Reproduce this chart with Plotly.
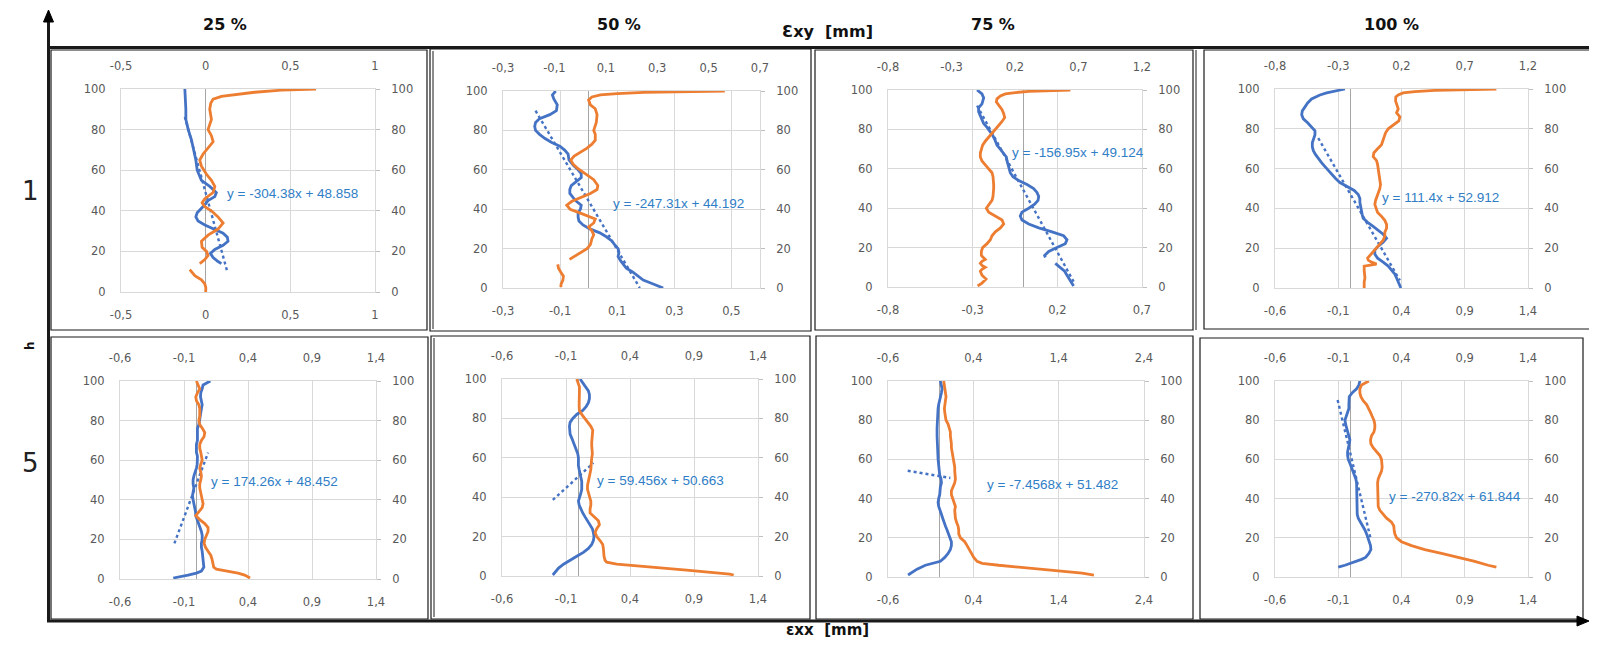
import numpy as np
import plotly.graph_objects as go

# page is 1597x648; the html body keeps its default 8px margin, so the figure is 16px smaller
PAGE_W, PAGE_H = 1597, 648
OFF = 8
W, H = PAGE_W - 2 * OFF, PAGE_H - 2 * OFF

column_titles = ["25 %", "50 %", "75 %", "100 %"]
row_titles = ["1", "5"]
top_axis_title = "Ɛxy  [mm]"
bottom_axis_title = "εxx  [mm]"
h_title = "h"

# ---------------- data (h = height, x = strain) ----------------
p1_blue_h = [100, 95, 90, 85, 80, 75, 70, 65, 60, 55, 52, 49, 47, 45, 43, 41, 39, 37, 35, 33, 31, 29, 27, 25, 23, 21, 19, 17, 15, 14]
p1_blue_x = [-0.123, -0.119, -0.117, -0.117, -0.103, -0.084, -0.070, -0.058, -0.050, -0.025, 0.024, 0.063, 0.054, 0.014, -0.005, -0.025, -0.050, -0.058, -0.045, -0.005, 0.054, 0.103, 0.128, 0.132, 0.103, 0.054, 0.028, 0.044, 0.073, 0.093]
p1_orange_h = [100, 99.4, 98.4, 97.2, 96.4, 95, 93, 90, 85, 80, 77, 74, 71, 68, 65, 62, 58, 55, 52, 49, 46, 44, 42, 40, 37, 34, 31, 28, 25, 22, 20, 18, 16, 14, None, 11, 8, 6, 4, 2, 0]
p1_orange_x = [0.652, 0.446, 0.289, 0.171, 0.093, 0.044, 0.030, 0.024, 0.034, 0.014, 0.034, 0.044, 0.014, -0.015, -0.035, -0.025, 0.005, 0.034, 0.054, 0.044, -0.005, -0.021, -0.005, 0.034, 0.073, 0.103, 0.073, 0.014, -0.025, -0.021, 0.005, 0.014, -0.005, -0.035, None, -0.094, -0.064, -0.025, -0.005, 0.001, 0.0]

p2_blue_h = [100, 98, 96, 93, 90, 88, 86, 84, 82, 80, 78, 76, 74, 72, 70, 68, 65, 62, 60, 58, 56, 54, 52, 50, 48, 46, 44, 42, 40, 38, 36, 34, 32, 30, 28, 26, 24, 22, 20, 18, 16, 14, 12, 10, 8, 6, 4, 2, 0]
p2_blue_x = [-0.1155, -0.127, -0.122, -0.110, -0.113, -0.136, -0.172, -0.186, -0.189, -0.186, -0.172, -0.154, -0.131, -0.101, -0.084, -0.072, -0.069, -0.052, -0.037, -0.026, -0.026, -0.043, -0.061, -0.066, -0.066, -0.055, -0.043, -0.026, -0.029, -0.037, -0.037, -0.034, -0.020, 0.004, 0.039, 0.062, 0.080, 0.091, 0.103, 0.106, 0.103, 0.111, 0.120, 0.132, 0.155, 0.173, 0.191, 0.226, 0.261]
p2_orange_h = [100, 99.7, 99.3, 98.7, 98, 97, 95.5, 93, 91, 88, 84, 80, 78, 75, 73, 71, 69, 67, 65, 63, 61, 58, 55, 52, 50, 48, 46, 44, 42, 40, 38, 36, 35, 33, 31, 29, 27, 25, 22, 20, 18, 16, 14.5, None, 12, 10, 8, 6, 4, 2, 0.5]
p2_orange_x = [0.563, 0.393, 0.249, 0.144, 0.079, 0.046, 0.033, 0.040, 0.059, 0.066, 0.063, 0.053, 0.059, 0.059, 0.046, 0.027, 0.001, -0.023, -0.036, -0.028, -0.012, 0.020, 0.053, 0.069, 0.066, 0.040, 0.001, -0.032, -0.052, -0.039, 0.001, 0.040, 0.059, 0.053, 0.033, 0.046, 0.053, 0.046, 0.040, 0.027, 0.001, -0.025, -0.041, None, -0.087, -0.084, -0.075, -0.065, -0.067, -0.074, -0.075]

p3_blue_h = [100, 98, 96, 93, 91, 89, 87, 85, 83, 81, 79, 77, 75, 72, 70, 68, 66, 64, 62, 60, 58, 56, 54, 52, 50, 48, 46, 44, 42, 40, 38, 36, 34, 32, 30, 28, 26, 24, 22, 20, 18, 16, 15, None, 12, 10, 8, 6, 4, 2, 0.5]
p3_blue_x = [-0.274, -0.245, -0.235, -0.245, -0.265, -0.265, -0.255, -0.245, -0.235, -0.215, -0.196, -0.182, -0.170, -0.156, -0.137, -0.117, -0.101, -0.097, -0.091, -0.087, -0.078, -0.062, -0.028, 0.021, 0.060, 0.080, 0.090, 0.086, 0.066, 0.031, -0.009, -0.019, -0.009, 0.031, 0.090, 0.169, 0.237, 0.257, 0.247, 0.198, 0.149, 0.125, 0.129, None, 0.188, 0.218, 0.243, 0.257, 0.271, 0.287, 0.296]
p3_orange_h = [100, 99.7, 99.3, 98.7, 98, 97, 95.5, 94, 92, 90, 88, 86, 84, 82, 80, 78, 76, 74, 72, 70, 68, 66, 64, 62, 60, 58, 56, 54, 52, 50, 48, 46, 44, 42, 40, 38, 36, 34, 32, 30, 28, 26, 24, 22, 20, 18, 16, 14, 13, 12, 11, 10, 9, 8, 6, 4, 2, 0.5]
p3_orange_x = [0.636, 0.439, 0.308, 0.203, 0.124, 0.085, 0.058, 0.053, 0.079, 0.098, 0.111, 0.119, 0.098, 0.071, 0.045, 0.019, -0.007, -0.034, -0.055, -0.065, -0.073, -0.073, -0.060, -0.034, -0.007, 0.019, 0.027, 0.032, 0.032, 0.032, 0.032, 0.027, 0.019, -0.007, -0.026, -0.007, 0.045, 0.098, 0.111, 0.085, 0.045, 0.019, 0.006, -0.020, -0.055, -0.065, -0.065, -0.034, -0.060, -0.073, -0.060, -0.034, -0.060, -0.073, -0.060, -0.028, -0.060, -0.094]

p4_blue_h = [100, 99, 98, 97, 96, 95, 93, 91, 89, 87, 85, 83, 81, 79, 77, 75, 73, 71, 69, 67, 65, 63, 61, 59, 57, 55, 53, 51, 49, 47, 45, 43, 41, 39, 37, 35, 33, 31, 29, 27, 25, 23, 21, 19, 17, 15, 13, 11, 9, 7, 5, 3, 1, 0]
p4_blue_x = [-0.047, -0.126, -0.192, -0.245, -0.284, -0.311, -0.342, -0.363, -0.384, -0.389, -0.376, -0.342, -0.311, -0.284, -0.284, -0.297, -0.305, -0.305, -0.297, -0.279, -0.258, -0.232, -0.205, -0.179, -0.153, -0.121, -0.087, -0.034, 0.026, 0.058, 0.071, 0.071, 0.076, 0.084, 0.089, 0.097, 0.132, 0.176, 0.216, 0.255, 0.282, 0.255, 0.216, 0.189, 0.189, 0.211, 0.255, 0.295, 0.321, 0.347, 0.361, 0.374, 0.387, 0.395]
p4_orange_h = [100, 99.7, 99.3, 98.7, 98, 97, 96, 94, 92, 90, 88, 86, 84, 82, 80, 78, 76, 74, 72, 70, 68, 66, 64, 62, 60, 58, 56, 54, 52, 50, 48, 46, 44, 42, 40, 38, 36, 34, 32, 30, 28, 26, 24, 22, 20, 18, 16, 15, 14, 13, 12, 11.5, 11, 9, 7, 5, 3, 1, 0]
p4_orange_x = [0.950, 0.674, 0.463, 0.305, 0.213, 0.174, 0.155, 0.153, 0.161, 0.174, 0.161, 0.187, 0.179, 0.134, 0.095, 0.074, 0.063, 0.055, 0.042, 0.011, -0.018, -0.024, 0.003, 0.011, 0.016, 0.024, 0.029, 0.029, 0.034, 0.029, 0.016, 0.003, -0.005, -0.011, -0.003, 0.011, 0.042, 0.068, 0.082, 0.082, 0.068, 0.068, 0.055, 0.029, 0.003, -0.024, -0.050, -0.068, -0.063, -0.037, 0.003, -0.063, -0.095, -0.095, -0.089, -0.089, -0.095, -0.095, -0.095]

p5_blue_h = [100, 99, 98, 96, 94, 92, 90, 88, 86, 84, 82, 80, 78, 76, 74, 72, 70, 68, 66, 64, 62, 60, 58, 56, 54, 52, 50, 48, 46, 44, 42, 40, 38, 36, 34, 32, 30, 28, 26, 24, 22, 20, 18, 16, 14, 12, 10, 8, 6, 4, 3, 2, 1, 0.5]
p5_blue_x = [0.106, 0.075, 0.049, 0.042, 0.031, 0.029, 0.036, 0.042, 0.036, 0.031, 0.031, 0.023, 0.016, 0.005, 0.005, 0.010, 0.005, -0.003, -0.003, -0.003, 0.005, 0.005, 0.003, -0.003, -0.016, -0.023, -0.029, -0.029, -0.023, -0.029, -0.034, -0.029, -0.021, -0.016, -0.010, -0.008, 0.003, 0.016, 0.029, 0.036, 0.042, 0.042, 0.036, 0.036, 0.042, 0.044, 0.047, 0.049, 0.055, 0.036, -0.003, -0.068, -0.158, -0.184]
p5_orange_h = [100, 98, 96, 94, 92, 90, 88, 86, 84, 82, 80, 78, 76, 74, 72, 70, 68, 66, 64, 62, 60, 58, 56, 54, 52, 50, 48, 46, 44, 42, 40, 38, 36, 34, 32, 30, 28, 26, 24, 22, 20, 18, 16, 14, 12, 10, 8, 6, 5, 4, 3, 2, 1, 0.5]
p5_orange_x = [-0.003, 0.010, 0.023, 0.005, -0.008, -0.003, 0.016, 0.023, 0.023, 0.023, 0.016, 0.023, 0.044, 0.062, 0.057, 0.036, 0.023, 0.023, 0.031, 0.036, 0.042, 0.031, 0.023, 0.031, 0.036, 0.031, 0.023, 0.023, 0.029, 0.036, 0.042, 0.049, 0.042, 0.016, -0.008, 0.023, 0.062, 0.088, 0.088, 0.075, 0.062, 0.057, 0.068, 0.088, 0.109, 0.119, 0.127, 0.132, 0.153, 0.244, 0.322, 0.374, 0.408, 0.416]

p6_blue_h = [100, 98, 96, 94, 92, 90, 88, 86, 84, 82, 80, 78, 76, 74, 72, 70, 68, 66, 64, 62, 60, 58, 56, 54, 52, 50, 48, 46, 44, 42, 40, 38, 36, 34, 32, 30, 28, 26, 24, 22, 20, 18, 16, 14, 12, 10, 8, 6, 4, 2, 0.5]
p6_blue_x = [0.010, 0.031, 0.057, 0.075, 0.083, 0.083, 0.075, 0.057, 0.031, -0.016, -0.047, -0.068, -0.073, -0.073, -0.068, -0.055, -0.042, -0.029, -0.016, -0.008, -0.003, -0.003, -0.003, 0.003, 0.010, 0.018, 0.023, 0.023, 0.023, 0.016, 0.005, -0.003, 0.003, 0.016, 0.031, 0.049, 0.068, 0.088, 0.106, 0.114, 0.119, 0.114, 0.101, 0.075, 0.036, -0.016, -0.068, -0.119, -0.158, -0.184, -0.203]
p6_orange_h = [100, 98, 96, 94, 92, 90, 88, 86, 84, 82, 80, 78, 76, 74, 72, 70, 68, 66, 64, 62, 60, 58, 56, 54, 52, 50, 48, 46, 44, 42, 40, 38, 36, 34, 32, 30, 28, 26, 24, 22, 20, 18, 16, 14, 12, 10, 8, 7, 6, 5, 4, 3, 2, 1.5, 1, 0.5]
p6_orange_x = [-0.016, -0.003, 0.005, 0.005, 0.003, 0.003, 0.003, 0.003, 0.005, 0.023, 0.049, 0.075, 0.094, 0.109, 0.106, 0.101, 0.101, 0.101, 0.106, 0.106, 0.101, 0.101, 0.096, 0.094, 0.088, 0.083, 0.075, 0.068, 0.068, 0.075, 0.088, 0.094, 0.094, 0.088, 0.088, 0.119, 0.153, 0.161, 0.140, 0.127, 0.140, 0.166, 0.187, 0.192, 0.192, 0.197, 0.205, 0.218, 0.296, 0.452, 0.660, 0.842, 1.023, 1.127, 1.179, 1.210]

p7_blue_h = [100, 98, 96, 94, 92, 90, 88, 86, 84, 80, 76, 72, 68, 64, 60, 56, 52, 50, 48, 46, 44, 42, 40, 38, 36, 34, 32, 30, 28, 26, 24, 22, 20, 18, 16, 14, 12, 10, 8, 7, 6, 4, 2, 1]
p7_blue_x = [0.014, 0.026, 0.034, 0.026, 0.014, 0.006, -0.006, -0.013, -0.017, -0.017, -0.025, -0.025, -0.025, -0.017, -0.013, -0.006, 0.006, 0.022, 0.026, 0.014, 0.014, 0.006, -0.006, -0.013, -0.006, 0.014, 0.026, 0.041, 0.053, 0.073, 0.092, 0.112, 0.131, 0.143, 0.143, 0.131, 0.104, 0.065, 0.014, -0.064, -0.162, -0.260, -0.326, -0.365]
p7_orange_h = [100, 98, 96, 94, 92, 90, 88, 86, 84, 82, 80, 78, 76, 74, 72, 70, 68, 66, 64, 62, 60, 58, 56, 54, 52, 50, 48, 46, 44, 42, 40, 38, 36, 34, 32, 30, 28, 26, 24, 22, 20, 18, 16, 14, 12, 10, 8, 7, 6, 5, 4, 3, 2, 1]
p7_orange_x = [0.053, 0.061, 0.065, 0.073, 0.080, 0.073, 0.065, 0.061, 0.065, 0.073, 0.080, 0.104, 0.120, 0.131, 0.131, 0.139, 0.143, 0.143, 0.151, 0.159, 0.159, 0.170, 0.182, 0.182, 0.190, 0.190, 0.182, 0.159, 0.143, 0.143, 0.159, 0.182, 0.190, 0.182, 0.182, 0.190, 0.202, 0.221, 0.229, 0.229, 0.249, 0.299, 0.327, 0.354, 0.378, 0.405, 0.444, 0.503, 0.698, 0.933, 1.207, 1.481, 1.676, 1.813]

p8_blue_h = [100, 98, 96, 94, 92, 90, 88, 86, 84, 82, 80, 78, 76, 74, 72, 70, 68, 66, 64, 62, 60, 58, 56, 54, 52, 50, 48, 46, 44, 42, 40, 38, 36, 34, 32, 30, 28, 26, 24, 22, 20, 18, 16, 14, 12, 10, 9, 8, 7, 6, 5]
p8_blue_x = [0.071, 0.063, 0.045, 0.011, -0.013, -0.016, -0.016, -0.016, -0.026, -0.039, -0.047, -0.042, -0.034, -0.026, -0.016, -0.008, -0.013, -0.021, -0.026, -0.026, -0.021, -0.008, 0.005, 0.018, 0.032, 0.039, 0.045, 0.045, 0.045, 0.045, 0.045, 0.045, 0.045, 0.045, 0.050, 0.058, 0.076, 0.097, 0.111, 0.124, 0.137, 0.145, 0.155, 0.158, 0.142, 0.116, 0.084, 0.045, 0.005, -0.047, -0.100]
p8_orange_h = [100, 99, 98, 96, 94, 92, 90, 88, 86, 84, 82, 80, 78, 76, 74, 72, 70, 68, 66, 64, 62, 60, 58, 56, 54, 52, 50, 48, 46, 44, 42, 40, 38, 36, 34, 32, 30, 28, 26, 24, 22, 20, 18, 16, 14, 12, 10, 8, 6, 5]
p8_orange_x = [0.142, 0.111, 0.084, 0.071, 0.071, 0.079, 0.097, 0.124, 0.142, 0.155, 0.168, 0.182, 0.189, 0.189, 0.182, 0.163, 0.155, 0.158, 0.176, 0.203, 0.229, 0.242, 0.247, 0.247, 0.242, 0.229, 0.216, 0.211, 0.211, 0.211, 0.211, 0.211, 0.216, 0.216, 0.229, 0.255, 0.282, 0.321, 0.339, 0.342, 0.347, 0.361, 0.400, 0.479, 0.584, 0.716, 0.847, 0.979, 1.084, 1.150]

# linear trend lines of the blue series (end points) and their labels
trend_x = [[-0.123, 0.128], [-0.186, 0.179], [-0.274, 0.296], [-0.258, 0.387],
           [-0.175, 0.088], [-0.203, 0.114], [-0.369, 0.131], [-0.105, 0.157]]
trend_h = [[86.3, 9.9], [90.0, 0.0], [92.1, 2.7], [75.3, 3.8],
           [18.0, 63.8], [38.6, 57.4], [54.2, 50.5], [90.3, 19.3]]
trend_labels = ["y = -304.38x + 48.858", "y = -247.31x + 44.192", "y = -156.95x + 49.124",
                "y = 111.4x + 52.912", "y = 174.26x + 48.452", "y = 59.456x + 50.663",
                "y = -7.4568x + 51.482", "y = -270.82x + 61.844"]

# axis scales: bottom (εxx) and top (εxy) per panel
bottom_range = [[-0.5, 1.0], [-0.3, 0.6], [-0.8, 0.7], [-0.6, 1.4], [-0.6, 1.4], [-0.6, 1.4], [-0.6, 2.4], [-0.6, 1.4]]
bottom_step = [0.5, 0.2, 0.5, 0.5, 0.5, 0.5, 1.0, 0.5]
top_range = [[-0.5, 1.0], [-0.3, 0.7], [-0.8, 1.2], [-0.8, 1.2], [-0.6, 1.4], [-0.6, 1.4], [-0.6, 2.4], [-0.6, 1.4]]
top_step = [0.5, 0.2, 0.5, 0.5, 0.5, 0.5, 1.0, 0.5]
h_range = [0, 100]
h_step = 20

blue_series = [(p1_blue_x, p1_blue_h), (p2_blue_x, p2_blue_h), (p3_blue_x, p3_blue_h), (p4_blue_x, p4_blue_h),
               (p5_blue_x, p5_blue_h), (p6_blue_x, p6_blue_h), (p7_blue_x, p7_blue_h), (p8_blue_x, p8_blue_h)]
orange_series = [(p1_orange_x, p1_orange_h), (p2_orange_x, p2_orange_h), (p3_orange_x, p3_orange_h), (p4_orange_x, p4_orange_h),
                 (p5_orange_x, p5_orange_h), (p6_orange_x, p6_orange_h), (p7_orange_x, p7_orange_h), (p8_orange_x, p8_orange_h)]

# ---------------- styling / layout ----------------
BLUE = "#4472C4"
ORANGE = "#ED7D31"
EQ_COLOR = "#2f7ec6"
GRID = "#d9d9d9"
ZERO = "#a6a6a6"
TICK_FONT = dict(family="DejaVu Sans", size=11.5, color="#595959")

# plot areas in page pixels: (left, right, top, bottom)
plot_px = [(121, 375, 89, 292), (503, 760, 91, 288), (888, 1142, 90, 287), (1275, 1528, 89, 288),
           (120, 376, 381, 579), (502, 758, 379, 576), (888, 1144, 381, 577), (1275, 1528, 381, 577)]
# equation label centres in page pixels
eq_px = [(292, 193), (678, 203), (1078, 152), (1440, 197), (274, 481), (660, 480), (1052, 484), (1455, 496)]


def X(px):
    return (px - OFF) / W


def Y(py):
    return 1 - (py - OFF) / H


def fmt(v):
    s = f"{v:.1f}"
    if s.endswith(".0"):
        s = s[:-2]
    if s == "-0":
        s = "0"
    return s.replace(".", ",")


def ticks(lo, hi, step):
    vals = np.round(np.arange(lo, hi + 1e-9, step), 3)
    return list(vals), [fmt(v) for v in vals]


def axname(kind, n):
    return kind if n == 1 else f"{kind}{n}"


fig = go.Figure()
layout_axes = {}

for i in range(8):
    nb, nt = 2 * i + 1, 2 * i + 2
    xb, xt = axname("x", nb), axname("x", nt)
    yl, yr = axname("y", nb), axname("y", nt)
    l, r, t, b = plot_px[i]

    bx, bh = blue_series[i]
    ox, oh = orange_series[i]

    fig.add_trace(go.Scatter(x=bx, y=bh, xaxis=xb, yaxis=yl, mode="lines",
                             line=dict(color=BLUE, width=2.8), connectgaps=False,
                             showlegend=False, hoverinfo="skip"))
    fig.add_trace(go.Scatter(x=trend_x[i], y=trend_h[i], xaxis=xb, yaxis=yl, mode="lines",
                             line=dict(color=BLUE, width=2.4, dash="dot"),
                             showlegend=False, hoverinfo="skip"))
    fig.add_trace(go.Scatter(x=ox, y=oh, xaxis=xt, yaxis=yr, mode="lines",
                             line=dict(color=ORANGE, width=2.8), connectgaps=False,
                             showlegend=False, hoverinfo="skip"))

    bv, bt = ticks(bottom_range[i][0], bottom_range[i][1], bottom_step[i])
    tv, tt = ticks(top_range[i][0], top_range[i][1], top_step[i])
    hv, _ = ticks(h_range[0], h_range[1], h_step)
    ht = [str(int(v)) for v in hv]

    common = dict(fixedrange=True, automargin=False, tickfont=TICK_FONT)
    layout_axes[axname("xaxis", nb)] = dict(
        domain=[X(l), X(r)], anchor=yl, side="bottom", range=bottom_range[i],
        tickvals=bv, ticktext=bt, ticks="", ticklabelstandoff=12,
        showgrid=True, gridcolor=GRID, gridwidth=1,
        zeroline=True, zerolinecolor=ZERO, zerolinewidth=1.3,
        showline=True, linecolor=GRID, linewidth=1, **common)
    layout_axes[axname("xaxis", nt)] = dict(
        overlaying=xb, anchor=yr, side="top", range=top_range[i],
        tickvals=tv, ticktext=tt, ticks="", ticklabelstandoff=13,
        showgrid=False, zeroline=False, showline=True, linecolor=GRID, linewidth=1, **common)
    layout_axes[axname("yaxis", nb)] = dict(
        domain=[Y(b), Y(t)], anchor=xb, side="left", range=h_range,
        tickvals=hv, ticktext=ht, ticks="", ticklabelstandoff=12,
        showgrid=True, gridcolor=GRID, gridwidth=1, zeroline=False,
        showline=True, linecolor=GRID, linewidth=1, **common)
    layout_axes[axname("yaxis", nt)] = dict(
        overlaying=yl, anchor=xt, side="right", range=h_range,
        tickvals=hv, ticktext=ht, ticks="outside", ticklen=4,
        tickcolor="#bfbfbf", ticklabelstandoff=9,
        showgrid=False, zeroline=False, showline=True, linecolor=GRID, linewidth=1, **common)

# ---------------- frame shapes ----------------
shapes = []


def line(x0, y0, x1, y1, w=1.2, c="#1a1a1a"):
    shapes.append(dict(type="line", xref="paper", yref="paper", x0=X(x0), y0=Y(y0), x1=X(x1), y1=Y(y1),
                       line=dict(color=c, width=w), layer="above"))


def rect(x0, y0, x1, y1, w=1.2, c="#1a1a1a"):
    shapes.append(dict(type="rect", xref="paper", yref="paper", x0=X(x0), y0=Y(y0), x1=X(x1), y1=Y(y1),
                       line=dict(color=c, width=w), fillcolor="rgba(0,0,0,0)", layer="above"))


panel_boxes = [(51, 50, 427, 330), (430, 49, 811, 331), (815, 50, 1193, 330), (1204, 50, 1591, 329),
               (51, 337, 428, 619), (431, 336, 810, 619), (816, 336, 1193, 619), (1200, 338, 1583, 619)]
for bx0, by0, bx1, by1 in panel_boxes:
    rect(bx0, by0, bx1, by1)
# inner double borders
line(433, 51, 433, 329, 1.0)
line(434, 338, 434, 617, 1.0)
line(1196, 50, 1196, 330, 1.0)

# thick axes of the composite
line(48.5, 20, 48.5, 621.5, 3)
line(47, 47.5, 1589, 47.5, 3)
line(47, 621, 1580, 621, 3)
shapes.append(dict(type="path", xref="paper", yref="paper",
                   path=f"M {X(48.5)} {Y(10)} L {X(43.5)} {Y(22)} L {X(53.5)} {Y(22)} Z",
                   fillcolor="#000", line=dict(color="#000", width=1)))
shapes.append(dict(type="path", xref="paper", yref="paper",
                   path=f"M {X(1589)} {Y(621)} L {X(1577)} {Y(616)} L {X(1577)} {Y(626)} Z",
                   fillcolor="#000", line=dict(color="#000", width=1)))

# ---------------- annotations ----------------
ann = []
for i in range(8):
    ex, ey = eq_px[i]
    ann.append(dict(x=X(ex), y=Y(ey), xref="paper", yref="paper", text=trend_labels[i], showarrow=False,
                    xanchor="center", yanchor="middle",
                    font=dict(family="Liberation Sans", size=13.5, color=EQ_COLOR)))

col_x = [225, 619, 993, 1391]
for cx, ct in zip(col_x, column_titles):
    ann.append(dict(x=X(cx), y=Y(24.5), xref="paper", yref="paper", text=f"<b>{ct}</b>", showarrow=False,
                    xanchor="center", yanchor="middle",
                    font=dict(family="DejaVu Sans", size=16, color="#111")))
ann.append(dict(x=X(827), y=Y(32), xref="paper", yref="paper", text=f"<b>{top_axis_title}</b>", showarrow=False,
                xanchor="center", yanchor="middle", font=dict(family="DejaVu Sans", size=16, color="#111")))
# bottom title: anchored to the bottom edge of the figure so it stays fully visible
ann.append(dict(x=X(827), y=0, xref="paper", yref="paper", text=f"<b>{bottom_axis_title}</b>", showarrow=False,
                xanchor="center", yanchor="bottom", yshift=0, borderpad=0,
                font=dict(family="DejaVu Sans", size=15, color="#111")))
for ry, rt in zip([191, 463], row_titles):
    ann.append(dict(x=X(30.5), y=Y(ry), xref="paper", yref="paper", text=rt, showarrow=False,
                    xanchor="center", yanchor="middle", font=dict(family="DejaVu Sans", size=26, color="#222")))
ann.append(dict(x=X(30), y=Y(346), xref="paper", yref="paper", text=f"<b>{h_title}</b>", showarrow=False,
                textangle=-90, xanchor="center", yanchor="middle",
                font=dict(family="DejaVu Sans", size=12, color="#111")))

fig.update_layout(
    width=W, height=H, autosize=False,
    margin=dict(l=0, r=0, t=0, b=0, pad=0, autoexpand=False),
    paper_bgcolor="white", plot_bgcolor="white",
    showlegend=False, shapes=shapes, annotations=ann,
    **layout_axes,
)

fig.write_html("out.html")
